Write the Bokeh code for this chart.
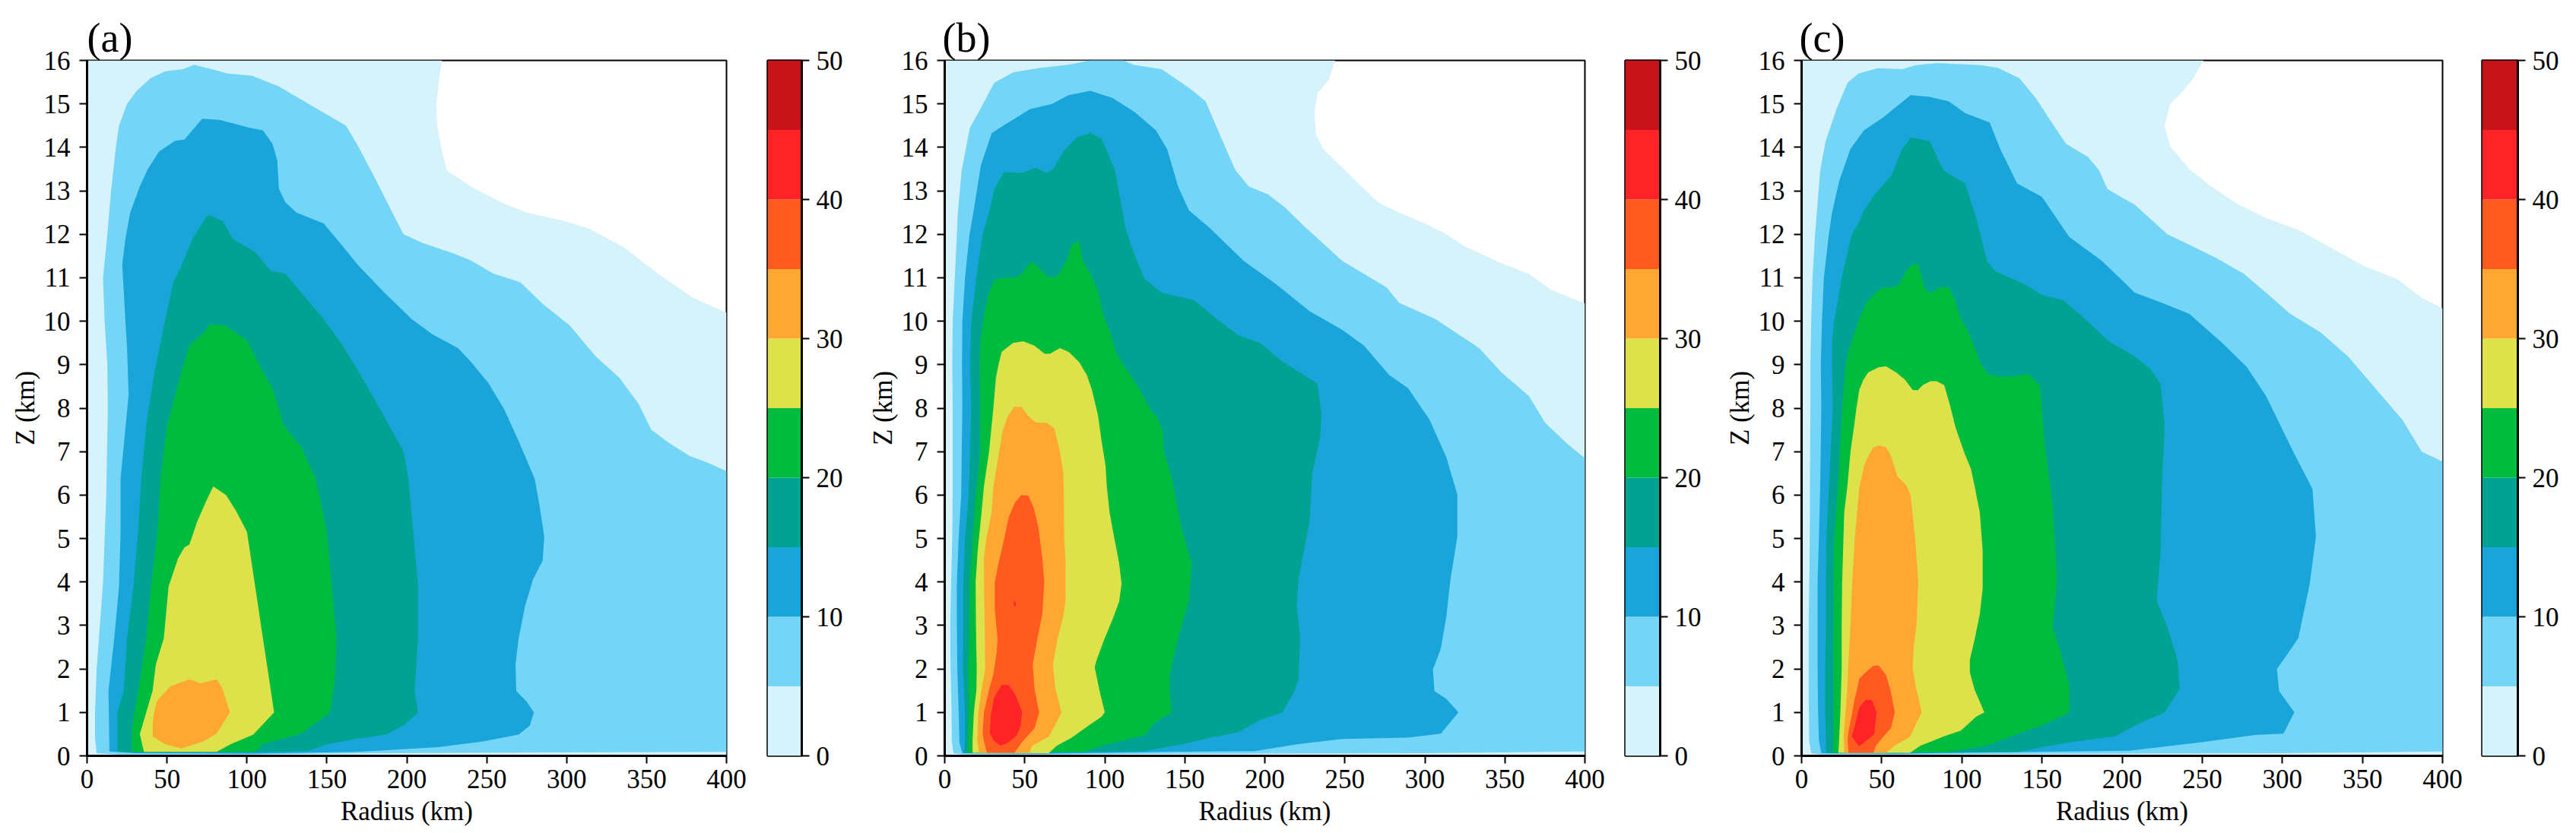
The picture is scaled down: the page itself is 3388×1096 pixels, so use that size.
from bokeh.plotting import figure
from bokeh.layouts import row
from bokeh.models import Range1d, Title, FixedTicker
from bokeh.embed import file_html
from bokeh.resources import INLINE

FONT = "Liberation Serif"

# colour bands (m/s): lower edge of each band and its colour
bar_levels = [0, 5, 10, 15, 20, 25, 30, 35, 40, 45, 50]
bar_colors = ["#D6F3FC", "#74D5F6", "#1AA5DA", "#00A291", "#00BC3E",
              "#DDE24A", "#FFA733", "#FF5B20", "#FF2226", "#C7131A"]
bar_ticks = [0, 10, 20, 30, 40, 50]
x_ticks = [0, 50, 100, 150, 200, 250, 300, 350, 400]
y_ticks = list(range(0, 17))
x_title = "Radius (km)"
y_title = "Z (km)"

# contour outlines, as (radius km, height km)
a_edge00 = [(0,0),(0,16),(222,16),(220,15.5),(218.5,15),(219,14.5),(221.5,14),(225,13.47),(240,13.1),(259,12.74),(275,12.5),(299,12.3),(314,12.13),(336,11.7),(355,11.15),(379,10.54),(400,10.2),(400,0)]
a_edge05 = [(6,0.06),(5,0.4),(5,1),(6,2),(8,3),(10,4),(11,5),(12,6),(13,8),(12.7,9),(11,10),(10,11),(12.7,12),(15,13),(18,14),(20,14.5),(25,15),(31,15.3),(40,15.6),(49,15.75),(60,15.8),(67,15.9),(78,15.8),(88,15.7),(103,15.65),(120,15.4),(134,15.1),(148,14.8),(162,14.5),(170,14),(180,13.3),(191,12.5),(198,12),(210,11.8),(230,11.55),(240,11.4),(254,11.1),(271,10.9),(285,10.4),(302,9.9),(318,9.2),(333,8.7),(345,8.1),(353,7.5),(364,7.2),(377,6.9),(388,6.75),(400,6.55),(400,0.09),(300,0.08),(170,0.06),(100,0.03),(20,0.03)]
a_edge10 = [(14,0.1),(13.4,1.5),(17,2.7),(20,3.9),(21,5.2),(21,6.4),(26,8.3),(25,9.4),(24,10),(22,11.3),(24,11.9),(27,12.5),(33,13.1),(38,13.5),(45,13.9),(55,14.15),(61,14.18),(66,14.4),(72,14.66),(83,14.63),(102,14.45),(110,14.39),(116,14.08),(119,13.7),(120,13.05),(124,12.74),(131,12.5),(148,12.25),(156,11.9),(170,11.27),(186,10.66),(203,10.05),(216,9.7),(232,9.38),(240,9.07),(251,8.58),(261,7.97),(270,7.24),(280,6.38),(283,5.77),(286,5.04),(285,4.49),(279,4.06),(274,3.45),(270,2.71),(268,2.1),(268.5,1.49),(275,1.25),(279.5,1.0),(277,0.7),(270,0.49),(247,0.33),(220,0.2),(168,0.09),(100,0.05),(30,0.06)]
a_edge15 = [(19,0.1),(19,1),(23,1.5),(25,2.7),(29,3.9),(32,5.2),(34,6.4),(37,7.6),(42,8.8),(49,10.05),(54,10.9),(59,11.27),(66,11.9),(73,12.3),(76,12.45),(85,12.3),(91,11.9),(105,11.6),(115,11.15),(124,11.09),(134,10.66),(148,10.05),(160,9.44),(174,8.58),(187,7.73),(198,7),(201,6.38),(204,5.16),(207,3.94),(207,2.71),(205,1.49),(207,1),(198,0.7),(187,0.49),(168,0.39),(151,0.27),(138,0.11),(100,0.08),(30,0.08)]
a_edge20 = [(28,0.09),(28,0.64),(32,1.5),(37,2.7),(40,3.9),(44,5.16),(46,6.38),(50,7.6),(59,8.83),(64,9.44),(73,9.74),(77,9.93),(86,9.9),(100,9.56),(110,8.83),(116,8.46),(123,7.6),(134,7.1),(143,6.38),(150,5.16),(153,3.94),(156,2.71),(155,1.74),(152,1),(134,0.51),(110,0.27),(105,0.09)]
a_edge25 = [(35.6,0.09),(33,0.5),(41,1.5),(43,2.1),(48,2.7),(51,3.9),(57,4.55),(61,4.8),(64,4.86),(69,5.4),(75,5.9),(79,6.2),(87,6),(93,5.65),(100,5.16),(105,3.94),(110,2.71),(114,1.74),(117,1),(104,0.49),(90,0.27),(81,0.09)]
a_edge30 = [(42,1),(43.5,1.25),(52,1.6),(64,1.76),(71,1.67),(81.2,1.76),(84.6,1.55),(89.4,1),(81,0.51),(72.6,0.33),(59,0.17),(48.6,0.27),(41.1,0.44),(41.1,0.76)]

b_edge00 = [(0,0),(0,16),(244,16),(240,15.55),(233,15.25),(231,14.8),(232,14.3),(236.5,13.96),(248.5,13.53),(270.6,12.74),(284,12.5),(300,12.25),(313.5,12),(324,11.74),(348,11.33),(365,11.09),(379,10.72),(400,10.41),(400,0)]
b_edge05 = [(5.5,0.06),(4.4,0.35),(4.3,1),(3.6,2.2),(3.5,3),(4,4),(4.7,5),(5,6),(5,8),(4.7,9),(5,10),(6.3,11),(7.6,12),(8.2,12.5),(10.6,13.47),(15.7,14.45),(21,14.8),(31,15.49),(43,15.73),(60,15.83),(77,15.9),(91,16),(111.5,16),(118,15.9),(135.5,15.8),(152.6,15.37),(163,15.06),(173,14.2),(181.7,13.47),(190,13.1),(202,12.92),(212.5,12.62),(224.5,12.19),(248.4,11.39),(276,10.78),(284,10.42),(306.6,10.05),(334,9.38),(347.6,8.83),(365,8.28),(375,7.67),(389,7.18),(400,6.85),(400,0.1),(350,0.08),(300,0.06),(150,0.05),(60,0.03),(12,0.03)]
b_edge10 = [(11,0.06),(9.2,0.3),(8.7,1),(7.9,2),(7.6,3),(7.6,4),(8.7,5),(10.3,6),(11,8),(10.8,9),(11,10),(12.7,11),(15.5,12),(17.9,12.5),(22.6,13.59),(29.4,14.33),(37,14.51),(53.4,14.88),(67,15),(77.3,15.2),(91,15.3),(104.7,15.14),(118.4,14.82),(132,14.39),(139,13.96),(145.8,13.1),(152.6,12.55),(166,12.13),(186.8,11.39),(207.4,10.84),(228,10.23),(248.4,9.8),(262,9.44),(277.5,8.77),(289.5,8.46),(303,7.73),(313.4,6.87),(320.3,6.01),(320.3,5.04),(316,4.06),(313.4,3.2),(310,2.47),(305,1.98),(306,1.49),(313.4,1.31),(321,1),(310,0.51),(289.5,0.42),(248.4,0.39),(221,0.27),(193.7,0.11),(135.5,0.09),(60,0.05)]
b_edge15 = [(12,0.06),(12.7,0.35),(12.7,1),(11.4,2),(11.6,3),(11.6,4),(12.7,5),(15,6),(16.6,8),(15.8,9),(16.6,10),(19.8,11),(23.7,12),(27.7,12.5),(31,13.04),(37,13.43),(48,13.41),(57,13.53),(63.6,13.41),(67.8,13.5),(74,13.9),(82.5,14.23),(91,14.33),(98,14.2),(106.4,13.47),(113,12.13),(118,11.58),(125,10.97),(135.5,10.66),(156,10.48),(170,10.05),(183.4,9.68),(197,9.5),(211,9.07),(233,8.56),(235.4,7.85),(234.7,7.36),(229.6,6.5),(228,5.4),(221,4.06),(220,3.45),(222,2.71),(221,1.74),(217.6,1.43),(211,1),(197,0.82),(183.4,0.54),(166,0.42),(149,0.27),(125,0.11),(60,0.07)]
b_edge20 = [(14.6,0.07),(14.6,0.35),(15,1),(14.7,2),(15.4,3),(15.5,4),(17.4,5),(19.5,6),(22.2,7),(22.2,8),(21.8,9),(22.2,9.58),(24,10),(27.2,10.63),(31.4,10.97),(38,11),(43.5,10.99),(48.3,11.1),(51.5,11.27),(55.4,11.37),(60,11.18),(64,11.04),(68,11),(71,11.07),(76,11.39),(79.5,11.77),(84,11.85),(86.3,11.39),(91.8,11.04),(95.8,10.69),(99,10.16),(103.7,9.7),(107.7,9.23),(114.8,8.82),(122,8.42),(128,8),(133,7.77),(136.2,7.47),(137,7),(142,6.38),(147.5,5.28),(154.3,4.43),(152.6,3.57),(145.8,2.71),(140.6,1.86),(140.6,1.49),(141.7,1),(131,0.76),(125,0.48),(107.7,0.32),(98,0.23),(87,0.09)]
b_edge25 = [(17.4,0.07),(17.4,0.35),(18.2,1),(19.8,1.52),(20,2),(19.5,3),(19.3,4),(20.6,4.72),(23,5.6),(24.5,6.2),(27.7,7),(30.4,8),(32,8.7),(33.6,9),(35.6,9.3),(42.7,9.5),(49,9.54),(56,9.44),(62.5,9.25),(65.7,9.25),(72,9.38),(77.6,9.29),(84,9.06),(88.7,8.77),(92,8.42),(95.8,7.83),(98,7.25),(100.5,6.67),(101.3,6.2),(103,5.6),(106,5),(109,4.43),(110.5,3.96),(109,3.55),(105,3.15),(99.7,2.68),(95,2.21),(93.7,2.04),(96.6,1.52),(100,1),(98,0.9),(90,0.7),(79,0.41),(70,0.23),(65,0.06)]
b_edge30 = [(21.4,0.07),(20.3,0.35),(21,1),(23,1.52),(25.3,2),(25,3),(24.5,4),(24.5,4.55),(26,5),(29.3,5.6),(30.4,6.18),(34,7),(36.4,7.5),(39.6,7.83),(43.5,8.03),(47.8,8.03),(52,7.83),(56.7,7.67),(64,7.66),(68.4,7.54),(72,7),(74,6.55),(74.4,6.2),(74.7,5),(75.5,4.43),(75.5,3.6),(74.4,3.26),(70.5,2.68),(67.6,2.1),(69.3,1.52),(73,1),(68,0.64),(65,0.44),(54.6,0.23),(53,0.07)]
b_edge35 = [(26.4,0.07),(24.5,0.35),(23.7,0.52),(24.5,1),(27.7,1.52),(30.4,1.87),(32.5,2.39),(33,2.68),(31.3,3.38),(31.3,4),(33.6,4.43),(37.2,5),(39.9,5.48),(44,5.83),(47.8,6),(52.2,5.99),(55.7,5.7),(58.6,5.24),(61,4.55),(62.2,4),(61,3.26),(57.8,2.68),(55,2.1),(56.2,1.52),(59,1),(56.2,0.64),(49,0.35),(43.5,0.07)]
b_edge40 = [(35.6,1.63),(39.9,1.63),(44.3,1.4),(48.3,1.02),(47.5,0.7),(45.1,0.47),(38.8,0.29),(34.8,0.23),(30.9,0.35),(28.2,0.52),(28.8,0.93),(30.9,1.34)]
b_speck40 = [(43.2,3.44),(44.3,3.44),(44.3,3.55),(43.2,3.55)]

c_edge00 = [(0,0),(0,16),(251,16),(243.7,15.55),(236.9,15.25),(230,15),(226.6,14.5),(230,14.02),(242,13.5),(255.6,13.1),(272.7,12.68),(290,12.37),(310,12.1),(327,11.76),(351,11.27),(371.7,10.97),(387,10.54),(400,10.29),(400,0)]
c_edge05 = [(6,0.06),(4.7,0.35),(4.4,1.5),(4.4,3),(4.9,4.3),(5.2,5.6),(5.2,6.2),(5.5,8),(5.5,9),(6,10),(6.8,11),(8.4,12),(9.5,12.5),(11.6,13.47),(15,14.14),(21.8,14.88),(28.7,15.49),(35.5,15.7),(47.4,15.82),(62.8,15.8),(71.3,15.89),(85,15.94),(112.3,15.89),(122.5,15.83),(136,15.59),(146.4,15.12),(155,14.63),(165,14.08),(178.8,13.78),(185.7,13.47),(190.8,13.04),(207.9,12.68),(228.3,12),(242,11.76),(259,11.45),(276,11.09),(289.8,10.66),(305,10.17),(324,9.74),(341,9.19),(358,8.46),(375,7.73),(387,7),(400,6.77),(400,0.1),(350,0.08),(300,0.06),(150,0.05),(60,0.03),(12,0.03)]
c_edge10 = [(12.3,0.06),(10.8,0.35),(10.3,1),(10,2),(10,3),(10,4),(10.8,5),(11.6,6.18),(12.3,8),(12,9),(12.7,10),(13.9,11),(17,12),(19,12.5),(23.5,13.23),(30.4,13.96),(38.9,14.39),(50.9,14.69),(68,15.2),(80,15.16),(91.8,15.06),(102,14.79),(117.4,14.57),(124,13.96),(134.5,13.17),(150,12.86),(167,11.94),(187.4,11.39),(207.9,10.66),(225,10.42),(242,10.17),(262.5,9.5),(277.8,8.95),(289.8,8.28),(306.8,7),(318.8,6.14),(321,5.04),(317,3.94),(310,2.71),(303.4,2.35),(296.6,2),(298,1.49),(307.5,1),(300.7,0.51),(283,0.48),(248.8,0.31),(204.4,0.12),(146.4,0.09),(60,0.05)]
c_edge15 = [(15.5,0.06),(15.2,0.35),(14.7,1),(14.7,2),(15.2,3),(15.2,4),(15.5,5),(17,6.18),(19.5,8),(19,9),(19.1,9.58),(20.3,10),(22.6,10.46),(25,11),(31.3,12),(35.5,12.25),(38.9,12.55),(45.7,12.92),(56,13.35),(62.8,13.96),(68,14.23),(80,14.14),(88.4,13.47),(102,13.17),(109,12.37),(115.7,11.39),(120.8,11.15),(139.6,10.84),(150,10.6),(163.5,10.48),(177,10.05),(190.8,9.56),(207.9,9.19),(218,8.89),(224,8.56),(226.6,7.6),(225,6.38),(224,4.67),(221.5,3.57),(228.3,2.96),(234.5,2.22),(236,1.55),(226.6,1),(207.9,0.7),(196,0.45),(167,0.31),(146.4,0.17),(136,0.09),(60,0.07)]
c_edge20 = [(19.5,0.07),(19.8,0.35),(19.8,1),(19.8,2),(19.8,3),(19.8,4),(20.3,5),(22.6,6.18),(25.3,8),(27.4,9),(30.5,9.46),(35.3,9.99),(40,10.4),(47,10.69),(51,10.77),(56.6,10.78),(60.6,10.83),(64.5,11.1),(67.7,11.27),(72.5,11.33),(74.8,11.04),(76.4,10.8),(80,10.64),(86.7,10.78),(91.8,10.79),(95.4,10.51),(99.4,10.05),(103.3,9.81),(107.3,9.46),(112,9),(116,8.79),(123,8.72),(132.6,8.73),(141.3,8.79),(148.8,8.52),(151.5,7.24),(156.7,5.77),(159.4,4.06),(156.7,2.96),(161.8,2.35),(167,1.61),(167,1),(150,0.7),(140.5,0.58),(126,0.38),(115,0.23),(96,0.12),(90,0.08)]
c_edge25 = [(23,0.07),(24.2,1),(25,2),(25,3),(25.3,4),(26.6,5.6),(28.5,6.18),(30.5,7),(32.6,7.54),(34.2,8),(36,8.42),(38.5,8.65),(41.6,8.82),(48,8.94),(52.7,8.96),(59,8.82),(64.6,8.65),(69.3,8.42),(72.5,8.41),(75.6,8.53),(80.4,8.62),(84.3,8.62),(89,8.53),(92.2,8.12),(96.2,7.54),(101.7,6.96),(105.7,6.6),(108,6.2),(111.2,5.6),(113,4.72),(113,3.85),(111.2,3.26),(108,2.68),(105,2.21),(105,1.92),(108,1.52),(114,1),(108.9,0.9),(99.4,0.58),(88.3,0.44),(74,0.23),(67.7,0.07)]
c_edge30 = [(26.6,0.07),(26.3,0.52),(27.4,1),(28.5,1.52),(29,2),(30.5,3),(31.6,4),(33.2,5),(36,6.18),(39,6.67),(41.6,6.9),(44.8,7.1),(48.7,7.14),(52.7,7.1),(55.8,6.9),(59.8,6.43),(65.3,6.23),(68,6),(70.9,5),(72.8,4),(71.7,3),(70,2.5),(69.3,2),(71.7,1.52),(75,1),(71.7,0.76),(67.7,0.44),(58,0.23),(52.7,0.07)]
c_edge35 = [(29.3,0.07),(28.6,0.35),(29.4,0.58),(31.3,0.93),(32.6,1.22),(34.5,1.52),(36,1.78),(40.8,1.95),(44.8,2.07),(48,2.08),(52.7,1.86),(55.4,1.52),(58.2,1),(55.8,0.64),(51,0.44),(46.4,0.23),(44.8,0.07)]
c_edge40 = [(40,1.29),(44,1.28),(46.8,1),(45.3,0.5),(36,0.22),(31.3,0.44),(33.7,0.76),(36,1.11)]

panels = [
    ("(a)", [a_edge00, a_edge05, a_edge10, a_edge15, a_edge20, a_edge25, a_edge30]),
    ("(b)", [b_edge00, b_edge05, b_edge10, b_edge15, b_edge20, b_edge25, b_edge30, b_edge35, b_edge40, b_speck40]),
    ("(c)", [c_edge00, c_edge05, c_edge10, c_edge15, c_edge20, c_edge25, c_edge30, c_edge35, c_edge40]),
]
panel_colors = {
    "(a)": bar_colors[:7],
    "(b)": bar_colors[:9] + [bar_colors[8]],
    "(c)": bar_colors[:9],
}


def style_axis(ax, ticks):
    ax.ticker = FixedTicker(ticks=ticks)
    ax.axis_line_color = "black"
    ax.axis_line_width = 3
    ax.major_tick_line_color = "black"
    ax.major_tick_line_width = 2
    ax.major_tick_in = 0
    ax.major_tick_out = 10
    ax.minor_tick_line_color = None
    ax.major_label_text_font = FONT
    ax.major_label_text_font_size = "35px"
    ax.major_label_text_color = "black"
    ax.major_label_standoff = 8
    ax.axis_label_text_font = FONT
    ax.axis_label_text_font_size = "35px"
    ax.axis_label_text_font_style = "normal"
    ax.axis_label_text_color = "black"


def make_panel(label, edges, colors, frame_w, label_dx, left):
    p = figure(frame_width=frame_w, frame_height=915, output_backend="svg", toolbar_location=None,
               x_range=Range1d(0, 400), y_range=Range1d(0, 16),
               min_border_left=left, min_border_right=30, min_border_top=79, min_border_bottom=92,
               x_axis_label=x_title, y_axis_label=y_title)
    p.grid.visible = False
    p.outline_line_color = "black"
    p.outline_line_width = 2
    p.outline_line_alpha = 1
    style_axis(p.xaxis[0], x_ticks)
    style_axis(p.yaxis[0], y_ticks)
    p.xaxis[0].axis_label_standoff = 8
    p.yaxis[0].major_label_standoff = 12
    p.yaxis[0].axis_label_standoff = 2
    for edge, col in zip(edges, colors):
        r, z = zip(*edge)
        p.patch(list(r), list(z), fill_color=col, line_color=None)
    p.title = Title(text=label, text_font=FONT, text_font_size="54px", text_font_style="normal",
                    text_color="black", align="left", offset=label_dx, standoff=0)
    return p


def make_bar(frame_w, left, right):
    p = figure(frame_width=frame_w, frame_height=915, output_backend="svg", toolbar_location=None,
               x_range=Range1d(0, 1), y_range=Range1d(bar_levels[0], bar_levels[-1]),
               x_axis_type=None, y_axis_location="right",
               min_border_left=left, min_border_right=right, min_border_top=79, min_border_bottom=92)
    p.grid.visible = False
    p.outline_line_color = "black"
    p.outline_line_width = 2.5
    style_axis(p.yaxis[0], bar_ticks)
    p.yaxis[0].major_label_standoff = 9
    p.quad(left=0, right=1, bottom=bar_levels[:-1], top=bar_levels[1:], fill_color=bar_colors, line_color=None)
    return p


pa = make_panel(panels[0][0], panels[0][1], panel_colors["(a)"], 841, 0, 114)
ba = make_bar(45, 24, 82)
pb = make_panel(panels[1][0], panels[1][1], panel_colors["(b)"], 842, -3, 106)
bb = make_bar(46, 23, 80)
pc = make_panel(panels[2][0], panels[2][1], panel_colors["(c)"], 843, -3, 106)
bc = make_bar(47, 22, 69)

layout = row(pa, ba, pb, bb, pc, bc, spacing=0)
open("out.html", "w").write(file_html(layout, INLINE))
